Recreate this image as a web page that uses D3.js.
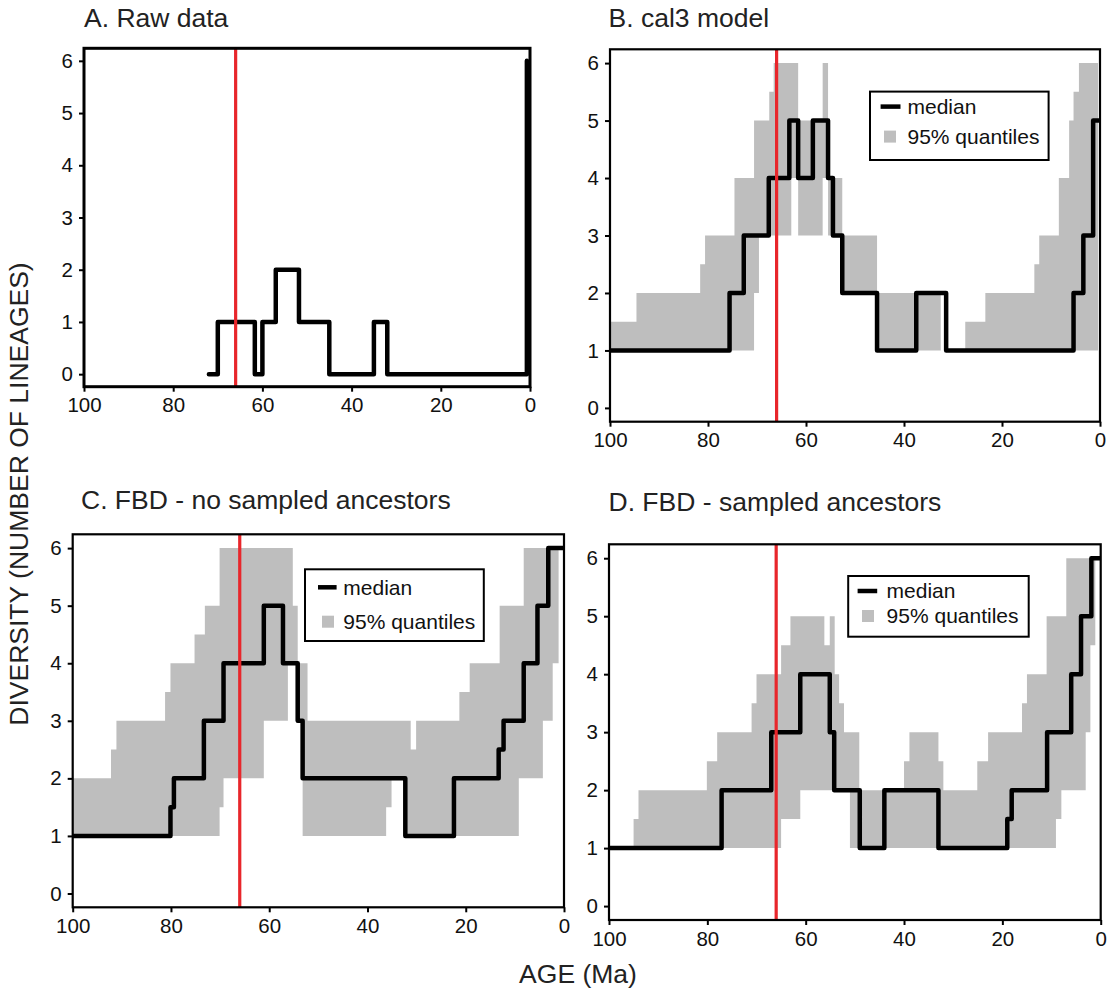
<!DOCTYPE html>
<html>
<head>
<meta charset="utf-8">
<script src="https://d3js.org/d3.v7.min.js"></script>
<style>
  html, body { margin: 0; padding: 0; background: #fff; }
  svg { display: block; }
</style>
</head>
<body>
<div id="chart"></div>
<script>
// ---------------- DATA ----------------
const xTicks = [100, 80, 60, 40, 20, 0];
const yTicks = [0, 1, 2, 3, 4, 5, 6];
const kpgAge = 66;

// A. Raw data (step: value holds from age toward younger ages)
const rawAge = [72, 70, 61.7, 60, 57, 51.8, 45, 35, 32, 0.7];
const rawDiv = [0, 1, 0, 1, 2, 1, 0, 1, 0, 6];

// B. cal3 model
const cal3Age    = [100, 75.6, 72.7, 67.6, 63.4, 61.6, 58.6, 55.5, 54.5, 52.6, 45.5, 37.5, 31.4, 5.4, 3.4, 1.4, 0];
const cal3Median = [1, 2, 3, 4, 5, 4, 5, 4, 3, 2, 1, 2, 1, 2, 3, 5, 5];
const cal3BandAge = [100, 94.6, 81.6, 80.6, 74.6, 70.6, 69.6, 67.5, 66.6, 63.0, 61.6, 56.6, 55.5, 52.6, 45.5, 32.5, 27.5, 23.4, 13.4, 12.4, 8.4, 6.3, 5.4, 4.3, 0.4];
const cal3Lower  = [1, 1, 1, 1, 1, 2, 3, 3, 3, 4, 3, 4, 3, 2, 1, 1, 1, 1, 1, 1, 1, 1, 1, 1, 1];
const cal3Upper  = [1.5, 2, 2.5, 3, 4, 5, 5, 5.5, 6, 6, 5, 6, 4, 3, 2, 1, 1.5, 2, 2.5, 3, 4, 5, 5.5, 6, 6];

// C. FBD - no sampled ancestors
const fbdAge    = [100, 80.1, 79.4, 73.3, 69.3, 61.1, 57.2, 54.2, 53.2, 32.3, 22.4, 13.3, 12.3, 8.2, 5.4, 3.2, 0];
const fbdMedian = [1, 1.5, 2, 3, 4, 5, 4, 3, 2, 1, 2, 2.5, 3, 4, 5, 6, 6];
const fbdBandAge = [100, 92.2, 91.1, 81.2, 80.1, 75.2, 73.1, 70.1, 69.3, 61.1, 56.2, 55.2, 54.6, 54.2, 53.2, 52.2, 36.2, 35.1, 32.3, 31.2, 30.1, 21.3, 19.2, 13.1, 9.2, 8.2, 4.3, 2.3, 1.1];
const fbdUpper  = [2, 2.5, 3, 3.5, 4, 4.5, 5, 6, 6, 6, 6, 5, 5, 4, 4, 3, 3, 3, 3, 2.5, 3, 3.5, 4, 5, 5, 6, 6, 6, 6];
const fbdLower  = [1, 1, 1, 1, 1, 1, 1, 1.5, 2, 3, 4, 4, 3, 3, 1, 1, 1.5, 2, 1, 1, 1, 1, 1, 1, 2, 2, 3, 4, 4];

// D. FBD - sampled ancestors
const fbdsaAge    = [100, 77.1, 67.0, 61.1, 55.1, 54.2, 49.0, 44.0, 33.0, 19.0, 18.1, 10.9, 6.0, 4.0, 1.9, 0];
const fbdsaMedian = [1, 2, 3, 4, 3, 2, 1, 2, 1, 1.5, 2, 3, 4, 5, 6, 6];
const fbdsaBandAge = [100, 95.0, 94.0, 80.1, 78.0, 71.0, 70.0, 65.0, 63.1, 61.1, 56.2, 55.1, 54.1, 53.2, 52.2, 51.0, 49.1, 40.0, 38.9, 33.0, 32.0, 25.1, 22.9, 16.0, 15.0, 11.0, 9.1, 8.0, 7.0, 3.05, 2.1, 1.1];
const fbdsaUpper  = [1, 1.5, 2, 2.5, 3, 3.5, 4, 4.5, 5, 5, 4.5, 5, 4, 3.5, 3, 3, 2, 2.5, 3, 2.5, 2, 2.5, 3, 3.5, 4, 5, 5, 5, 6, 6, 6, 6];
const fbdsaLower  = [1, 1, 1, 1, 1, 1, 1, 1.5, 1.5, 2, 2, 2, 2, 2, 2, 1, 1, 1, 1, 1, 1, 1, 1, 1, 1, 1, 1.5, 2, 2, 3, 4.5, 4.5];

const titles = ["A. Raw data", "B. cal3 model", "C. FBD - no sampled ancestors", "D. FBD - sampled ancestors"];
const legendLabels = ["median", "95% quantiles"];
const yTitle = "DIVERSITY (NUMBER OF LINEAGES)";
const xTitle = "AGE (Ma)";

// ---------------- LAYOUT ----------------
const FONT = '"Liberation Sans", Arial, Helvetica, sans-serif';
const W = 1108, H = 990;
const layout = [
  { frame: [84, 530, 48.3, 386.7], fw: 3, title: [84, 26.7], legend: null },
  { frame: [610, 1100, 49.3, 421.7], fw: 2.2, title: [608.5, 26.7],
    legend: { box: [870, 91.6, 1048.6, 160], r1: 106.6, r2: 136.6, lx: [880.6, 900.5], sq: 884, ss: 12, tx: 907.5 } },
  { frame: [72.7, 564, 534.3, 907.3], fw: 2.2, title: [81, 509.3],
    legend: { box: [305, 569.3, 483.8, 641], r1: 587.3, r2: 621.7, lx: [318, 336.6], sq: 322, ss: 12, tx: 343.3 } },
  { frame: [609, 1100.7, 544.3, 920], fw: 2.2, title: [608.5, 510.7],
    legend: { box: [848.2, 576, 1028.7, 636.7], r1: 591, r2: 616, lx: [857.6, 877.2], sq: 862, ss: 12, tx: 886.6 } }
];

const panelData = [
  { median: d3.zip(rawAge, rawDiv), band: null },
  { median: d3.zip(cal3Age, cal3Median), band: d3.zip(cal3BandAge, cal3Lower, cal3Upper) },
  { median: d3.zip(fbdAge, fbdMedian), band: d3.zip(fbdBandAge, fbdLower, fbdUpper) },
  { median: d3.zip(fbdsaAge, fbdsaMedian), band: d3.zip(fbdsaBandAge, fbdsaLower, fbdsaUpper) }
];

const svg = d3.select("#chart").append("svg")
  .attr("width", W).attr("height", H)
  .style("font-family", FONT);
svg.append("rect").attr("width", W).attr("height", H).attr("fill", "#fff");

layout.forEach((L, i) => {
  const [x0, x1, y0, y1] = L.frame;
  const x = d3.scaleLinear().domain([100, 0]).range([x0, x1]);
  const y = d3.scaleLinear().domain([-0.24, 6.24]).range([y1, y0]);
  const g = svg.append("g");
  const clipId = "clip" + i;
  svg.append("clipPath").attr("id", clipId)
    .append("rect").attr("x", x0).attr("y", y0).attr("width", x1 - x0).attr("height", y1 - y0);
  const plot = g.append("g").attr("clip-path", `url(#${clipId})`);
  const D = panelData[i];

  if (D.band) {
    const area = d3.area().curve(d3.curveStepAfter)
      .x(d => x(d[0])).y0(d => y(d[1])).y1(d => y(d[2]));
    plot.append("path").datum(D.band).attr("d", area)
      .attr("fill", "#bebebe").attr("stroke", "none");
  }
  const line = d3.line().curve(d3.curveStepAfter).x(d => x(d[0])).y(d => y(d[1]));
  plot.append("path").datum(D.median).attr("d", line)
    .attr("fill", "none").attr("stroke", "#000").attr("stroke-width", 4.5)
    .attr("stroke-linecap", "round").attr("stroke-linejoin", "round");

  plot.append("line")
    .attr("x1", x(kpgAge)).attr("x2", x(kpgAge)).attr("y1", y0).attr("y2", y1)
    .attr("stroke", "#e8262b").attr("stroke-width", 3.2);

  // frame
  g.append("rect").attr("x", x0).attr("y", y0).attr("width", x1 - x0).attr("height", y1 - y0)
    .attr("fill", "none").attr("stroke", "#000").attr("stroke-width", L.fw);

  // axes
  const ya = g.append("g").attr("transform", `translate(${x0},0)`)
    .call(d3.axisLeft(y).tickValues(yTicks).tickFormat(d3.format("d")).tickSize(5).tickPadding(6));
  const xa = g.append("g").attr("transform", `translate(0,${y1})`)
    .call(d3.axisBottom(x).tickValues(xTicks).tickFormat(d3.format("d")).tickSize(5).tickPadding(6));
  [ya, xa].forEach(a => {
    a.select(".domain").remove();
    a.selectAll(".tick line").attr("stroke", "#000").attr("stroke-width", 2);
    a.selectAll(".tick text").attr("fill", "#111").style("font-size", "20.5px").style("font-family", FONT);
  });

  // title
  g.append("text").attr("x", L.title[0]).attr("y", L.title[1])
    .text(titles[i]).attr("fill", "#222").style("font-size", "26.5px");

  // legend
  if (L.legend) {
    const lg = L.legend;
    g.append("rect").attr("x", lg.box[0]).attr("y", lg.box[1])
      .attr("width", lg.box[2] - lg.box[0]).attr("height", lg.box[3] - lg.box[1])
      .attr("fill", "#fff").attr("stroke", "#000").attr("stroke-width", 2);
    g.append("line").attr("x1", lg.lx[0]).attr("x2", lg.lx[1]).attr("y1", lg.r1).attr("y2", lg.r1)
      .attr("stroke", "#000").attr("stroke-width", 4.5);
    g.append("rect").attr("x", lg.sq).attr("y", lg.r2 - lg.ss / 2).attr("width", lg.ss).attr("height", lg.ss)
      .attr("fill", "#bebebe");
    [lg.r1, lg.r2].forEach((ry, k) => {
      g.append("text").attr("x", lg.tx).attr("y", ry).attr("dy", "0.35em")
        .text(legendLabels[k]).attr("fill", "#111").style("font-size", "21px");
    });
  }
});

// axis titles
svg.append("text")
  .attr("transform", "translate(28,494) rotate(-90)")
  .attr("text-anchor", "middle")
  .text(yTitle).attr("fill", "#222").style("font-size", "26.5px");
svg.append("text")
  .attr("x", 578).attr("y", 983).attr("text-anchor", "middle")
  .text(xTitle).attr("fill", "#222").style("font-size", "26.5px");
</script>
</body>
</html>
